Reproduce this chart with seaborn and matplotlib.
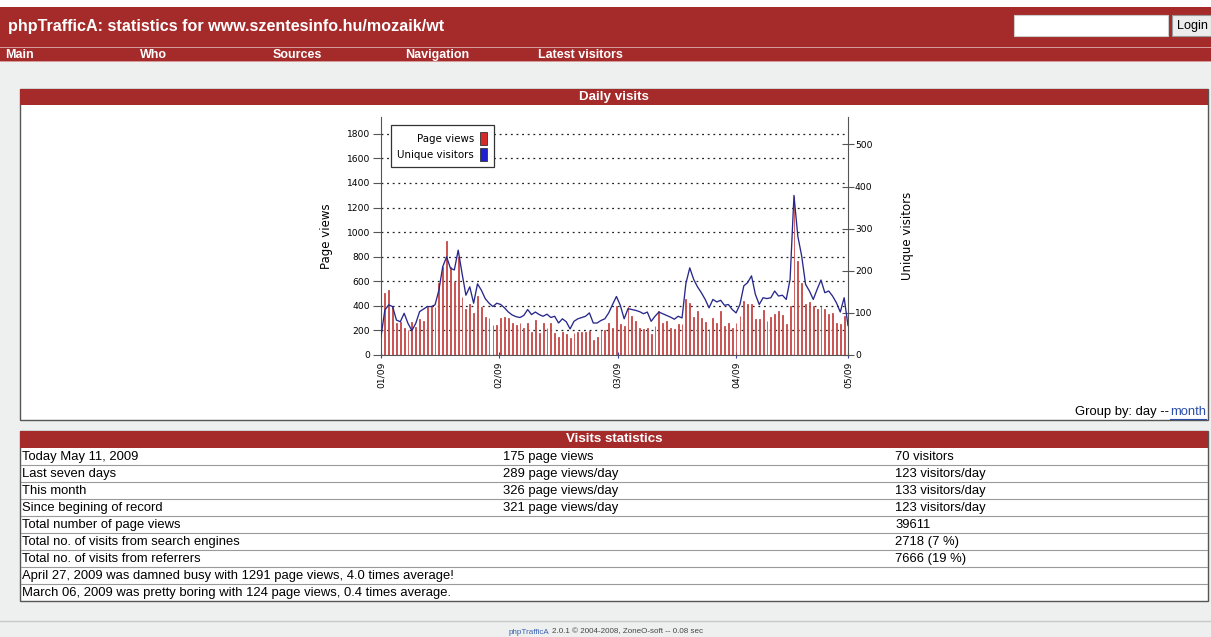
import matplotlib
matplotlib.use("Agg")
import matplotlib.pyplot as plt
from matplotlib.patches import Rectangle, Patch
from matplotlib.lines import Line2D
import pandas as pd
import seaborn as sns

# daily numbers for the last 122 days (Jan 10 .. May 11, 2009)
page_views = [
    230, 507, 529, 393, 258, 271, 217, 203, 271, 230,
    295, 279, 393, 401, 393, 583, 718, 927, 718, 596,
    800, 474, 371, 412, 344, 482, 393, 312, 298, 244,
    244, 298, 312, 304, 258, 244, 258, 217, 258, 190,
    285, 176, 258, 217, 258, 176, 149, 190, 171, 136,
    182, 190, 190, 190, 198, 124, 149, 203, 203, 258,
    217, 400, 249, 236, 398, 317, 276, 222, 209, 222,
    168, 236, 358, 263, 276, 222, 209, 249, 249, 458,
    426, 312, 358, 304, 271, 209, 298, 263, 358, 236,
    263, 222, 263, 317, 439, 412, 412, 290, 290, 366,
    276, 312, 336, 358, 325, 249, 398, 1291, 765, 588,
    412, 431, 398, 371, 398, 377, 331, 344, 263, 249,
    317, 175,
]
unique_visitors = [
    44, 107, 119, 115, 83, 79, 99, 75, 58, 75,
    103, 109, 115, 115, 119, 154, 210, 233, 206, 202,
    249, 194, 142, 162, 123, 169, 154, 134, 123, 115,
    123, 120, 112, 102, 95, 91, 89, 94, 108, 96,
    102, 96, 92, 97, 89, 92, 76, 86, 79, 62,
    80, 86, 89, 92, 100, 76, 76, 82, 86, 100,
    120, 139, 118, 86, 110, 108, 106, 103, 98, 102,
    80, 92, 102, 98, 94, 90, 85, 92, 88, 170,
    207, 180, 162, 148, 132, 112, 132, 126, 130, 118,
    120, 108, 100, 120, 164, 172, 188, 144, 120, 136,
    134, 136, 152, 140, 142, 132, 180, 379, 282, 235,
    168, 152, 132, 156, 178, 148, 152, 140, 124, 102,
    136, 70,
]
month_labels = ["01/09", "02/09", "03/09", "04/09", "05/09"]
month_ticks = [0, 30.5, 61.3, 92.1, 121]
left_ticks = [0, 200, 400, 600, 800, 1000, 1200, 1400, 1600, 1800]
right_ticks = [0, 100, 200, 300, 400, 500]

nav_items = ["Main", "Who", "Sources", "Navigation", "Latest visitors"]
nav_x = [5, 140, 273, 405, 538]

stats_rows = [
    ("Today May 11, 2009", "175 page views", "70 visitors"),
    ("Last seven days", "289 page views/day", "123 visitors/day"),
    ("This month", "326 page views/day", "133 visitors/day"),
    ("Since begining of record", "321 page views/day", "123 visitors/day"),
    ("Total number of page views", "", "39611"),
    ("Total no. of visits from search engines", "", "2718 (7 %)"),
    ("Total no. of visits from referrers", "", "7666 (19 %)"),
    ("April 27, 2009 was damned busy with 1291 page views, 4.0 times average!", "", ""),
    ("March 06, 2009 was pretty boring with 124 page views, 0.4 times average.", "", ""),
]

RED = "#a52a2a"
PINK = "#d79a9a"
BG = "#eef0f0"
LINK = "#2a4fa8"
W, H = 1211, 637
FONT = "Liberation Sans"

fig = plt.figure(figsize=(W / 100, H / 100), dpi=100, facecolor=BG)
renderer = fig.canvas.get_renderer()


def fx(x):
    return x / W


def fy(y):
    return 1 - y / H


def rect(x0, y0, x1, y1, **kw):
    kw.setdefault("zorder", -2)
    kw.setdefault("lw", 0)
    fig.add_artist(Rectangle((fx(x0), fy(y1)), (x1 - x0) / W, (y1 - y0) / H,
                             transform=fig.transFigure, **kw))


def hline(x0, x1, y, color, lw=1):
    fig.add_artist(Line2D([fx(x0), fx(x1)], [fy(y), fy(y)], transform=fig.transFigure,
                          color=color, lw=lw, zorder=-1))


def label(x, y, s, **kw):
    kw.setdefault("family", FONT)
    kw.setdefault("va", "center")
    kw.setdefault("fontsize", 9.4)
    return fig.text(fx(x), fy(y), s, **kw)


def text_width(t):
    return t.get_window_extent(renderer).width


# page header
rect(0, 0, W, 7, fc="white")
rect(0, 7, W, 47, fc=RED)
rect(0, 47, W, 48, fc=PINK)
rect(0, 48, W, 61, fc=RED)
rect(0, 61, W, 62, fc=PINK)
label(8, 27, "phpTrafficA: statistics for www.szentesinfo.hu/mozaik/wt",
      color="white", fontsize=11.6, fontweight="bold")
rect(1014, 15, 1168, 36, fc="white", ec="#cccccc", lw=0.8)
rect(1172, 15, 1211, 36, fc="#ececec", ec="#999999", lw=0.8)
label(1177, 26, "Login", color="black", fontsize=9.1)
for name, x in zip(nav_items, nav_x):
    label(x, 55, name, color="white", fontsize=9, fontweight="bold")

# "Daily visits" panel
rect(20, 89, 1208, 420, fc="white", ec="#555555", lw=1)
rect(20, 89, 1208, 105, fc=RED)
label(614, 97, "Daily visits", color="white", fontsize=9.6, fontweight="bold", ha="center")
month_txt = label(1206, 412, "month", color=LINK, ha="right")
mw = text_width(month_txt)
label(1206 - mw - 1, 412, "Group by: day --", color="black", ha="right")
hline(1206 - mw, 1206, 418.5, LINK, lw=0.8)

# chart
df = pd.DataFrame({"day": range(len(page_views)),
                   "page_views": page_views,
                   "visitors": unique_visitors})

ax = fig.add_axes([fx(381), fy(355), 467 / W, (355 - 116.7) / H])
ax.set_facecolor("white")
sns.barplot(data=df, x="day", y="page_views", ax=ax, native_scale=True,
            color="#c64848", saturation=1, width=0.22, linewidth=0.6,
            edgecolor="#c64848", errorbar=None)
ax2 = ax.twinx()
sns.lineplot(data=df, x="day", y="visitors", ax=ax2, color="#28288c", linewidth=0.95)

ax.set_xlim(0, 121)
ax.set_ylim(0, 1939)
ax2.set_ylim(0, 566)
ax.set_xticks(month_ticks)
ax.set_xticklabels(month_labels, rotation=90)
ax.set_yticks(left_ticks)
ax2.set_yticks(right_ticks)
ax.set_xlabel("")
ax2.set_xlabel("")
ax.set_ylabel("Page views", fontsize=8.5)
ax2.set_ylabel("Unique visitors", fontsize=8.5)
ax.yaxis.set_label_coords(-0.103, 0.5)
ax2.yaxis.set_label_coords(1.113, 0.5)

ax.grid(axis="y", linestyle=(0, (1.5, 3)), color="#222222", lw=0.9)
ax.set_axisbelow(True)
for a in (ax, ax2):
    a.spines["top"].set_visible(False)
ax.spines["right"].set_visible(False)
ax2.spines["left"].set_visible(False)
ax2.spines["bottom"].set_visible(False)
for sp in ("left", "bottom"):
    ax.spines[sp].set_color("#555555")
ax2.spines["right"].set_color("#555555")
ax.tick_params(axis="x", direction="inout", length=5, color="#3344aa", labelsize=6.6, pad=2)
ax.tick_params(axis="y", direction="out", length=6, color="#555555", labelsize=6.6, pad=2)
ax2.tick_params(axis="y", direction="inout", length=8, color="#555555", labelsize=6.6, pad=1)

handles = [Patch(facecolor="#d42a2a", edgecolor="#333333", lw=0.6),
           Patch(facecolor="#2020d0", edgecolor="#333333", lw=0.6)]
leg = ax2.legend(handles, ["Page views", "Unique visitors"], loc="upper left",
                 bbox_to_anchor=(0.01, 0.985), markerfirst=False, fontsize=7.4,
                 handlelength=0.65, handleheight=1.5, handletextpad=0.6,
                 labelspacing=0.35, borderpad=0.65, fancybox=False, framealpha=1,
                 edgecolor="#333333", alignment="right")
leg.get_frame().set_linewidth(0.9)

# "Visits statistics" table
rect(20, 431, 1208, 601, fc="white", ec="#555555", lw=1)
rect(20, 431, 1208, 448, fc=RED)
label(614, 439.5, "Visits statistics", color="white", fontsize=9.6,
      fontweight="bold", ha="center")
for k, (c1, c2, c3) in enumerate(stats_rows):
    y0 = 448 + 17 * k
    if k:
        hline(21, 1207, y0, "#9a9a9a", lw=0.8)
    label(22, y0 + 9, c1)
    label(503, y0 + 9, c2)
    label(895, y0 + 9, c3)

# footer
hline(0, W, 621, "#c8c8c8")
f1 = label(0, 632, "phpTrafficA", color="#3a5fb0", fontsize=5.8)
f2 = label(0, 632, "2.0.1 \u00a9 2004-2008, ZoneO-soft -- 0.08 sec", color="#444444", fontsize=5.8)
w1, w2 = text_width(f1), text_width(f2)
start = 606 - (w1 + w2 + 3) / 2
f1.set_x(fx(start))
f2.set_x(fx(start + w1 + 3))

fig.savefig("out.png", dpi=100, facecolor=BG)
